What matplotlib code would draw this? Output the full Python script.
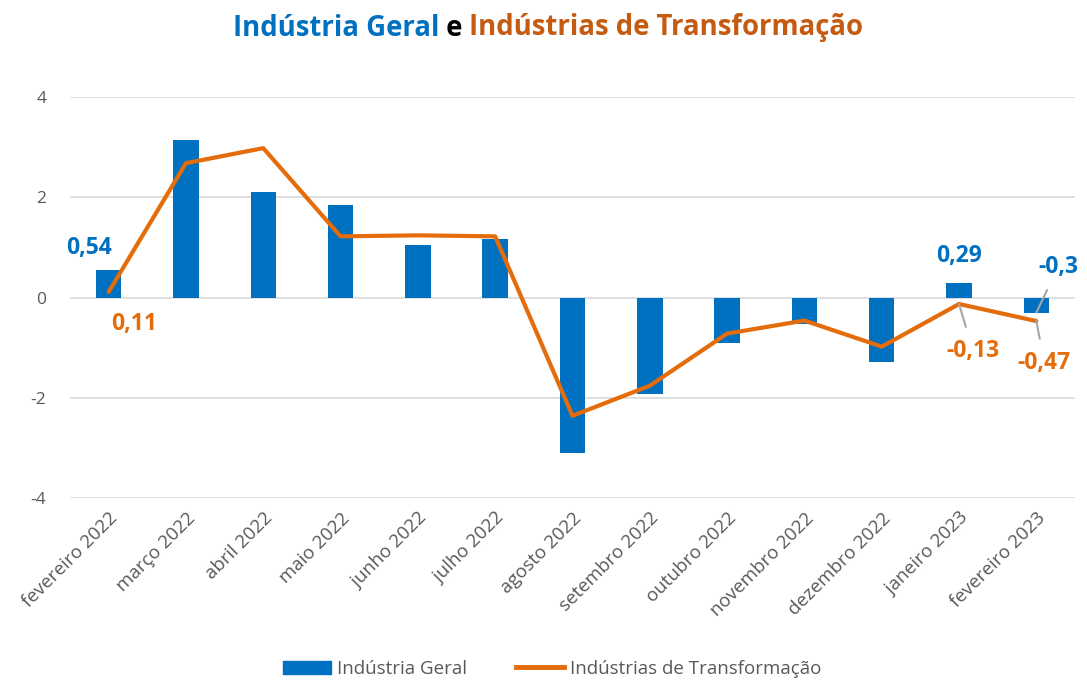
import numpy as np
import matplotlib
matplotlib.use("Agg")
import matplotlib.pyplot as plt
from matplotlib.patches import Patch
from matplotlib.lines import Line2D

plt.rcParams['font.family'] = ['Open Sans', 'DejaVu Sans']

# dados
meses = ["fevereiro 2022", "março 2022", "abril 2022", "maio 2022", "junho 2022",
         "julho 2022", "agosto 2022", "setembro 2022", "outubro 2022",
         "novembro 2022", "dezembro 2022", "janeiro 2023", "fevereiro 2023"]
geral = [0.54, 3.14, 2.10, 1.84, 1.04, 1.16, -3.10, -1.92, -0.90, -0.52, -1.28, 0.29, -0.30]
transf = [0.11, 2.68, 2.98, 1.22, 1.24, 1.22, -2.36, -1.76, -0.72, -0.46, -0.98, -0.13, -0.47]
yticks = [-4, -2, 0, 2, 4]

azul = "#0070C0"
laranja = "#E46C0A"
laranja_tit = "#C55A11"
cinza = "#595959"

fig = plt.figure(figsize=(10.87, 6.82), dpi=100)
ax = fig.add_axes([70/1087, 1-498/682, 1005/1087, 401/682])

x = np.arange(len(meses))
ax.bar(x, geral, width=0.33, color=azul, zorder=2)
ax.plot(x, transf, color=laranja, lw=3.0, solid_joinstyle='round', solid_capstyle='round', zorder=3)

ax.set_xlim(-0.5, len(meses) - 0.5)
ax.set_ylim(-4, 4)
ax.set_yticks(yticks)
ax.set_yticklabels([str(v) for v in yticks], fontsize=12.5, color=cinza)
ax.set_xticks(x)
ax.set_xticklabels(meses, rotation=45, ha='right', rotation_mode='anchor', fontsize=13.5, color=cinza)
ax.tick_params(axis='both', length=0)
ax.tick_params(axis='y', pad=17)
ax.tick_params(axis='x', pad=8)
ax.grid(axis='y', color='#D9D9D9', lw=1.2, zorder=0)
for s in ax.spines.values():
    s.set_visible(False)

def fmt(v):
    return ("%g" % v).replace(".", ",")

lab = dict(fontsize=16.5, fontweight='bold', ha='center', va='center', textcoords='offset pixels')
guia = dict(arrowstyle='-', color='#A6A6A6', lw=1.5, shrinkA=7, shrinkB=0)

# rótulos
ax.annotate(fmt(geral[0]), (x[0], geral[0]), xytext=(-20, 22), color=azul, **lab)
ax.annotate(fmt(transf[0]), (x[0], transf[0]), xytext=(25, -32), color=laranja, **lab)
ax.annotate(fmt(geral[11]), (x[11], geral[11]), xytext=(0, 27), color=azul, **lab)
ax.annotate(fmt(geral[12]), (x[12], geral[12]), xytext=(22, 46), color=azul, arrowprops=guia, **lab)
ax.annotate(fmt(transf[11]), (x[11], transf[11]), xytext=(14, -47), color=laranja, arrowprops=guia, **lab)
ax.annotate(fmt(transf[12]), (x[12], transf[12]), xytext=(8, -42), color=laranja, arrowprops=guia, **lab)

# título em três cores
partes = [("Indústria Geral", azul), (" e ", "black"), ("Indústrias de Transformação", laranja_tit)]
r = fig.canvas.get_renderer()
txts = [fig.text(0, 0, t, color=c, fontsize=19.8, fontweight='bold', va='center') for t, c in partes]
ws = [t.get_window_extent(r).width for t in txts]
x0 = 548 - sum(ws) / 2
for t, w in zip(txts, ws):
    t.set_position((x0 / 1087, 1 - 28 / 682))
    x0 += w

# legenda
h = [Patch(color=azul), Line2D([], [], color=laranja, lw=3.5)]
fig.legend(h, ["Indústria Geral", "Indústrias de Transformação"], loc='center',
           bbox_to_anchor=(552/1087, 1-669/682), ncol=2, frameon=False, fontsize=13.5,
           labelcolor=cinza, handlelength=2.6, columnspacing=2.6, handletextpad=0.3)

fig.savefig("out.png", dpi=100)
